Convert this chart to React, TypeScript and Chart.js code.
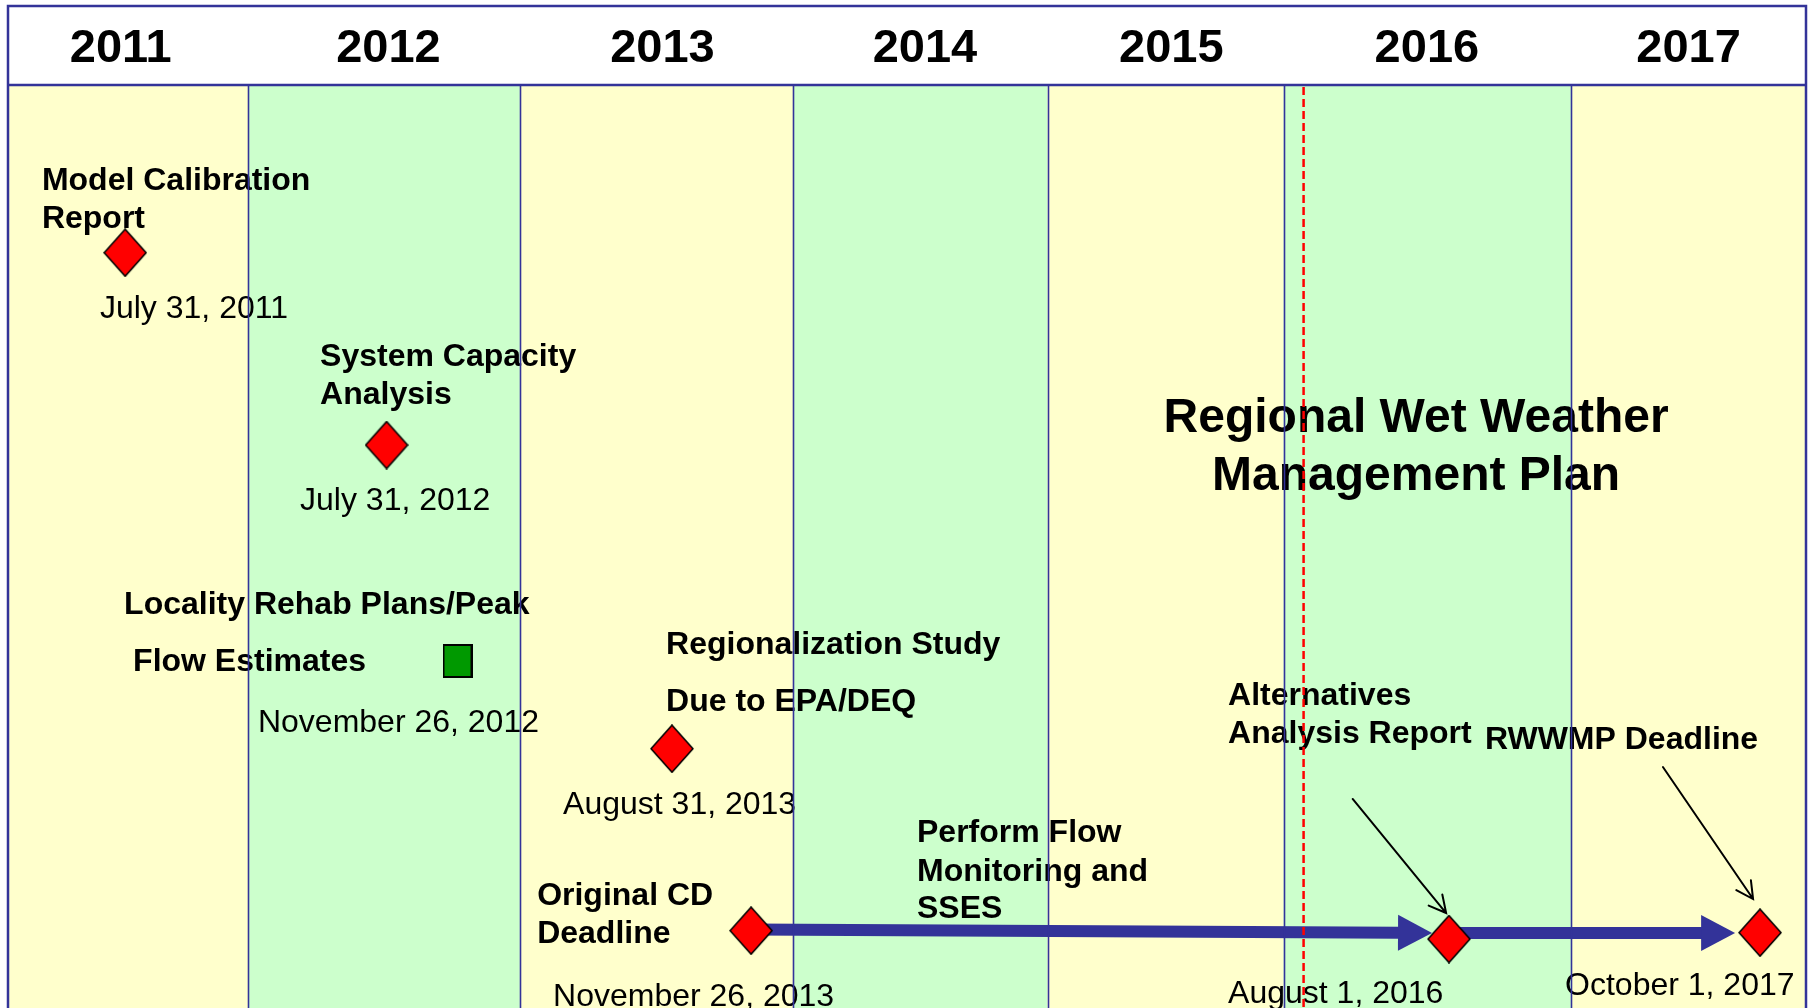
import React, { useEffect, useRef } from "react";
import { Chart, registerables } from "chart.js";

Chart.register(...registerables);

// ---------- data ----------
const years = ["2011", "2012", "2013", "2014", "2015", "2016", "2017"];
// where each year heading sits on the timeline axis
const yearLabelX = [2011.439, 2012.481, 2013.548, 2014.57, 2015.529, 2016.524, 2017.543];
// column edges on the timeline axis, as drawn in the picture
const bandEdges = [2011.0, 2011.936, 2012.993, 2014.056, 2015.047, 2015.966, 2017.085, 2018.0];
const bandColors = ["#FFFFCC", "#CCFFCC", "#FFFFCC", "#CCFFCC", "#FFFFCC", "#CCFFCC", "#FFFFCC"];

// red diamond milestones
const milestoneX = [2011.456, 2012.474, 2013.585, 2013.893, 2016.61, 2017.821];
const milestoneY = [18.08, 38.94, 71.88, 91.61, 92.52, 91.83];

// green square deliverable
const deliverableX = [2012.75];
const deliverableY = [62.36];

// thick blue flow arrows
const flowFromX = [2013.893, 2016.61];
const flowFromY = [91.49, 91.87];
const flowToX = [2016.544, 2017.724];
const flowToY = [91.87, 91.87];

// thin black pointer arrows
const pointerFromX = [2016.235, 2017.443];
const pointerFromY = [77.33, 73.86];
const pointerToX = [2016.599, 2017.794];
const pointerToY = [89.7, 88.18];

// red dashed "today" marker
const todayX = 2016.044;

// bold labels
const boldLabelText = [
  "Model Calibration", "Report",
  "System Capacity", "Analysis",
  "Locality Rehab Plans/Peak", "Flow Estimates",
  "Regionalization Study", "Due to EPA/DEQ",
  "Original CD", "Deadline",
  "Perform Flow", "Monitoring and", "SSES",
  "Alternatives", "Analysis Report",
  "RWWMP Deadline",
];
const boldLabelX = [
  2011.132, 2011.132,
  2012.215, 2012.215,
  2011.452, 2011.487,
  2013.562, 2013.562,
  2013.06, 2013.06,
  2014.539, 2014.539, 2014.539,
  2015.75, 2015.75,
  2016.75,
];
const boldLabelY = [
  10.09, 14.21,
  29.18, 33.3,
  56.07, 62.26,
  60.41, 66.59,
  87.64, 91.76,
  80.8, 85.03, 89.05,
  65.94, 70.07,
  70.72,
];

// date labels
const dateLabelText = [
  "July 31, 2011", "July 31, 2012", "November 26, 2012", "August 31, 2013",
  "November 26, 2013", "August 1, 2016", "October 1, 2017",
];
const dateLabelX = [2011.358, 2012.137, 2011.973, 2013.161, 2013.122, 2015.75, 2017.062];
const dateLabelY = [23.97, 44.79, 68.87, 77.77, 98.59, 98.26, 97.4];

// title
const titleLines = ["Regional Wet Weather", "Management Plan"];
const titleX = 2016.482;
const titleY = [35.79, 42.08];

// ---------- styles ----------
const FONT = '"Liberation Sans", Arial, Helvetica, sans-serif';
const LINE_BLUE = "#333399";
const TEXT_DY = 2.5;

function makeDiamond(): HTMLCanvasElement {
  const c = document.createElement("canvas");
  c.width = 44;
  c.height = 49;
  const g = c.getContext("2d")!;
  g.beginPath();
  g.moveTo(22, 1);
  g.lineTo(43, 24.5);
  g.lineTo(22, 48);
  g.lineTo(1, 24.5);
  g.closePath();
  g.fillStyle = "#FF0000";
  g.fill();
  g.lineWidth = 1.6;
  g.strokeStyle = "#000000";
  g.stroke();
  return c;
}

function makeSquare(): HTMLCanvasElement {
  const c = document.createElement("canvas");
  c.width = 30;
  c.height = 34;
  const g = c.getContext("2d")!;
  g.fillStyle = "#009900";
  g.fillRect(1, 1, 28, 32);
  g.lineWidth = 2;
  g.strokeStyle = "#000000";
  g.strokeRect(1, 1, 28, 32);
  return c;
}

export default function App() {
  const ref = useRef<HTMLCanvasElement>(null);

  useEffect(() => {
    const canvas = ref.current;
    if (!canvas) return;
    const diamond = makeDiamond();
    const square = makeSquare();

    const timelinePlugin = {
      id: "timeline",
      beforeDatasetsDraw(chart: any) {
        const { ctx, chartArea, scales } = chart;
        const xs = scales.x;
        const ys = scales.y;
        ctx.save();
        // header box
        ctx.fillStyle = "#FFFFFF";
        ctx.fillRect(chartArea.left, 6, chartArea.right - chartArea.left, chartArea.top - 6);
        // year bands
        for (let i = 0; i < years.length; i++) {
          const x0 = xs.getPixelForValue(bandEdges[i]);
          const x1 = xs.getPixelForValue(bandEdges[i + 1]);
          ctx.fillStyle = bandColors[i];
          ctx.fillRect(x0, chartArea.top, x1 - x0, chartArea.bottom - chartArea.top);
        }
        // year labels
        ctx.fillStyle = "#000000";
        ctx.font = `bold 47px ${FONT}`;
        ctx.textAlign = "center";
        ctx.textBaseline = "middle";
        for (let i = 0; i < years.length; i++) {
          ctx.fillText(years[i], xs.getPixelForValue(yearLabelX[i]), 49);
        }
        // flow arrows
        ctx.fillStyle = LINE_BLUE;
        ctx.strokeStyle = LINE_BLUE;
        for (let i = 0; i < flowFromX.length; i++) {
          const ax = xs.getPixelForValue(flowFromX[i]);
          const ay = ys.getPixelForValue(flowFromY[i]);
          const bx = xs.getPixelForValue(flowToX[i]);
          const by = ys.getPixelForValue(flowToY[i]);
          const ang = Math.atan2(by - ay, bx - ax);
          const headLen = 34;
          const headHalf = 18;
          const hx = bx - headLen * Math.cos(ang);
          const hy = by - headLen * Math.sin(ang);
          ctx.lineWidth = 12;
          ctx.lineCap = "butt";
          ctx.beginPath();
          ctx.moveTo(ax, ay);
          ctx.lineTo(hx + 1, hy);
          ctx.stroke();
          ctx.beginPath();
          ctx.moveTo(bx, by);
          ctx.lineTo(hx - headHalf * Math.sin(ang), hy + headHalf * Math.cos(ang));
          ctx.lineTo(hx + headHalf * Math.sin(ang), hy - headHalf * Math.cos(ang));
          ctx.closePath();
          ctx.fill();
        }
        ctx.restore();
      },
      afterDatasetsDraw(chart: any) {
        const { ctx, chartArea, scales } = chart;
        const xs = scales.x;
        const ys = scales.y;
        ctx.save();
        ctx.fillStyle = "#000000";
        ctx.textAlign = "left";
        ctx.textBaseline = "middle";
        ctx.font = `bold 32px ${FONT}`;
        boldLabelText.forEach((t, i) => {
          ctx.fillText(t, xs.getPixelForValue(boldLabelX[i]), ys.getPixelForValue(boldLabelY[i]) + TEXT_DY);
        });
        ctx.font = `32px ${FONT}`;
        dateLabelText.forEach((t, i) => {
          ctx.fillText(t, xs.getPixelForValue(dateLabelX[i]), ys.getPixelForValue(dateLabelY[i]) + TEXT_DY);
        });
        ctx.textAlign = "center";
        ctx.font = `bold 48px ${FONT}`;
        titleLines.forEach((t, i) => {
          ctx.fillText(t, xs.getPixelForValue(titleX), ys.getPixelForValue(titleY[i]) + TEXT_DY);
        });

        // column separator lines
        ctx.strokeStyle = LINE_BLUE;
        ctx.lineWidth = 1.6;
        for (let i = 1; i < bandEdges.length - 1; i++) {
          const x = Math.round(xs.getPixelForValue(bandEdges[i])) + 0.5;
          ctx.beginPath();
          ctx.moveTo(x, chartArea.top);
          ctx.lineTo(x, chartArea.bottom);
          ctx.stroke();
        }
        // outer frame
        ctx.lineWidth = 2.5;
        ctx.beginPath();
        ctx.moveTo(chartArea.left, chartArea.bottom);
        ctx.lineTo(chartArea.left, 6);
        ctx.lineTo(chartArea.right, 6);
        ctx.lineTo(chartArea.right, chartArea.bottom);
        ctx.stroke();
        ctx.beginPath();
        ctx.moveTo(chartArea.left, chartArea.top - 1);
        ctx.lineTo(chartArea.right, chartArea.top - 1);
        ctx.stroke();

        // pointer arrows
        ctx.strokeStyle = "#000000";
        ctx.lineWidth = 2;
        ctx.lineCap = "round";
        for (let i = 0; i < pointerFromX.length; i++) {
          const ax = xs.getPixelForValue(pointerFromX[i]);
          const ay = ys.getPixelForValue(pointerFromY[i]);
          const bx = xs.getPixelForValue(pointerToX[i]);
          const by = ys.getPixelForValue(pointerToY[i]);
          const ang = Math.atan2(by - ay, bx - ax);
          const L = 19;
          const spread = Math.PI / 6.5;
          ctx.beginPath();
          ctx.moveTo(ax, ay);
          ctx.lineTo(bx, by);
          ctx.moveTo(bx - L * Math.cos(ang - spread), by - L * Math.sin(ang - spread));
          ctx.lineTo(bx, by);
          ctx.lineTo(bx - L * Math.cos(ang + spread), by - L * Math.sin(ang + spread));
          ctx.stroke();
        }

        // red dashed today line
        const tx = xs.getPixelForValue(todayX);
        ctx.strokeStyle = "#FF0000";
        ctx.lineWidth = 2.5;
        ctx.lineCap = "butt";
        ctx.setLineDash([8, 4]);
        ctx.beginPath();
        ctx.moveTo(tx, chartArea.top + 1);
        ctx.lineTo(tx, chartArea.bottom);
        ctx.stroke();
        ctx.restore();
      },
    };

    const chart = new Chart(canvas, {
      type: "scatter",
      data: {
        datasets: [
          {
            label: "Milestones",
            data: milestoneX.map((x, i) => ({ x, y: milestoneY[i] })),
            pointStyle: diamond as any,
            pointRadius: 22,
            pointHoverRadius: 22,
            showLine: false,
          },
          {
            label: "Deliverable",
            data: deliverableX.map((x, i) => ({ x, y: deliverableY[i] })),
            pointStyle: square as any,
            pointRadius: 16,
            pointHoverRadius: 16,
            showLine: false,
          },
        ],
      },
      options: {
        animation: false,
        responsive: false,
        devicePixelRatio: 1,
        layout: { autoPadding: false, padding: { top: 86, left: 8, right: 7, bottom: 0 } },
        events: [],
        plugins: {
          legend: { display: false },
          tooltip: { enabled: false },
          title: { display: false },
        },
        scales: {
          x: { type: "linear", min: 2011, max: 2018, display: false },
          y: { type: "linear", min: 0, max: 100, reverse: true, display: false },
        },
      },
      plugins: [timelinePlugin],
    });

    return () => chart.destroy();
  }, []);

  return (
    <div
      style={{
        position: "fixed",
        left: 0,
        top: 0,
        width: 1813,
        height: 1008,
        background: "#FFFFFF",
        overflow: "hidden",
      }}
    >
      <canvas ref={ref} width={1813} height={1008} style={{ display: "block", width: 1813, height: 1008 }} />
    </div>
  );
}
